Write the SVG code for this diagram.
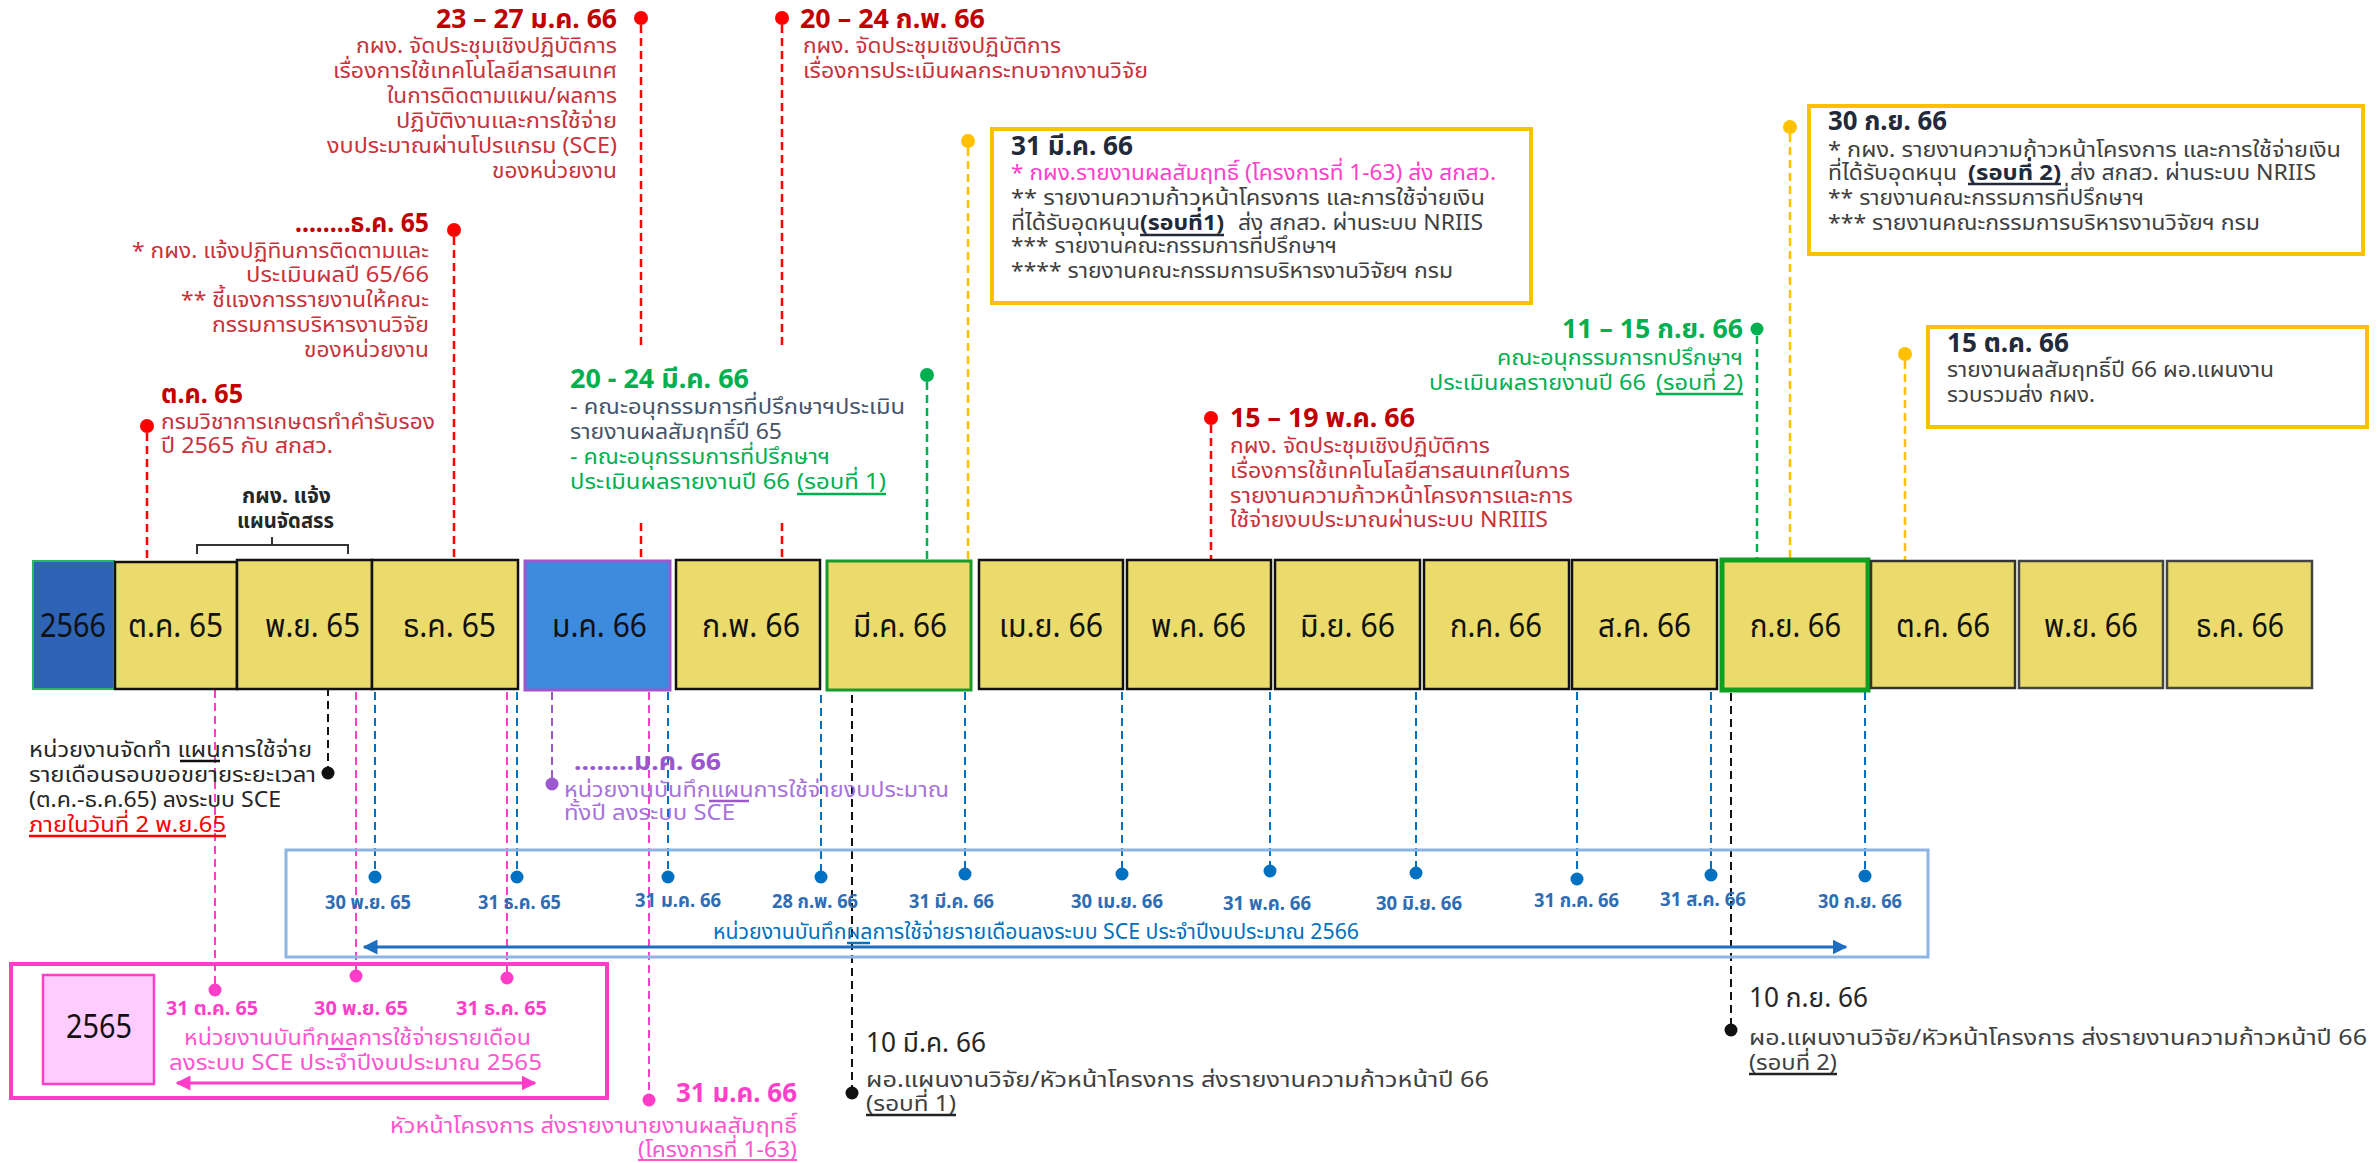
<svg xmlns="http://www.w3.org/2000/svg" width="2376" height="1162" viewBox="0 0 2376 1162">
<defs>
<style>
text{font-family:"Noto Sans","Noto Sans Thai","DejaVu Sans",sans-serif;font-size:22px;}
.b{font-weight:bold;}
.h{font-size:27px;font-weight:bold;}
.m{font-size:32px;fill:#111;}
.red{fill:#C00000;}
.redb{fill:#C8323A;}
.grn{fill:#00B050;}
.slate{fill:#44546A;}
.navy{fill:#222A3A;}
.gray{fill:#404040;}
.pink{fill:#FF3FC9;}
.pinkl{fill:#FF55D0;}
.purp{fill:#9B55D0;}
.purpl{fill:#A872DC;}
.blu{fill:#0070C0;}
.bl{fill:#2E6DB4;font-size:20px;font-weight:bold;}
.blk{fill:#262626;}
.box{fill:#EADB6C;stroke:#111;stroke-width:2.5;}
.d{fill:none;stroke-width:2.5;stroke-dasharray:8 5;}
.dr{stroke:#FF0000;}
.dg{stroke:#00B050;}
.dy{stroke:#FFC000;}
.db{stroke:#0070C0;stroke-width:2;}
.dp{stroke:#FF3DC8;stroke-width:2;}
.dk{stroke:#111;stroke-width:2;}
.dv{stroke:#9B59D0;stroke-width:2;}
.yb{fill:#fff;stroke:#FFC000;stroke-width:4;}
.ul{stroke-width:2.5;}
</style>
<marker id="ab" viewBox="0 0 10 10" refX="9" refY="5" markerWidth="5" markerHeight="5" orient="auto-start-reverse"><path d="M0,0 L10,5 L0,10 z" fill="#1F6FC0"/></marker>
<marker id="ap" viewBox="0 0 10 10" refX="9" refY="5" markerWidth="5" markerHeight="5" orient="auto-start-reverse"><path d="M0,0 L10,5 L0,10 z" fill="#FF3DC8"/></marker>
</defs>
<rect width="2376" height="1162" fill="#fff"/>

<g id="connectors">
<line class="d dr" x1="147" y1="433" x2="147" y2="558"/>
<line class="d dr" x1="454" y1="237" x2="454" y2="558"/>
<line class="d dr" x1="641" y1="25" x2="641" y2="345"/>
<line class="d dr" x1="641" y1="523" x2="641" y2="563"/>
<line class="d dr" x1="782" y1="25" x2="782" y2="345"/>
<line class="d dr" x1="782" y1="523" x2="782" y2="563"/>
<line class="d dg" x1="927" y1="382" x2="927" y2="561"/>
<line class="d dy" x1="968" y1="148" x2="968" y2="561"/>
<line class="d dr" x1="1211" y1="425" x2="1211" y2="566"/>
<line class="d dg" x1="1757" y1="336" x2="1757" y2="561"/>
<line class="d dy" x1="1790" y1="134" x2="1790" y2="561"/>
<line class="d dy" x1="1905" y1="361" x2="1905" y2="561"/>

<line class="d dp" x1="215" y1="690" x2="215" y2="984"/>
<line class="d dp" x1="356" y1="692" x2="356" y2="970"/>
<line class="d dp" x1="507" y1="692" x2="507" y2="972"/>
<line class="d dp" x1="649" y1="692" x2="649" y2="1094"/>
<line class="d dk" x1="328" y1="688" x2="328" y2="767"/>
<line class="d dv" x1="552" y1="692" x2="552" y2="778"/>
<line class="d dk" x1="852" y1="695" x2="852" y2="1087"/>
<line class="d dk" x1="1731" y1="693" x2="1731" y2="1024"/>

<line class="d db" x1="375" y1="692" x2="375" y2="871"/>
<line class="d db" x1="517" y1="692" x2="517" y2="871"/>
<line class="d db" x1="668" y1="692" x2="668" y2="871"/>
<line class="d db" x1="821" y1="695" x2="821" y2="871"/>
<line class="d db" x1="965" y1="692" x2="965" y2="868"/>
<line class="d db" x1="1122" y1="692" x2="1122" y2="868"/>
<line class="d db" x1="1270" y1="692" x2="1270" y2="865"/>
<line class="d db" x1="1416" y1="692" x2="1416" y2="867"/>
<line class="d db" x1="1577" y1="692" x2="1577" y2="873"/>
<line class="d db" x1="1711" y1="692" x2="1711" y2="869"/>
<line class="d db" x1="1865" y1="692" x2="1865" y2="870"/>

<g fill="#FF0000"><circle cx="147" cy="426" r="7"/><circle cx="454" cy="230" r="7"/><circle cx="641" cy="18" r="7"/><circle cx="782" cy="18" r="7"/><circle cx="1211" cy="418" r="7"/></g>
<g fill="#00B050"><circle cx="927" cy="375" r="7"/><circle cx="1757" cy="329" r="6.5"/></g>
<g fill="#FFC000"><circle cx="968" cy="141" r="7"/><circle cx="1790" cy="127" r="7"/><circle cx="1905" cy="354" r="7"/></g>
<g fill="#0070C0"><circle cx="375" cy="877" r="6.5"/><circle cx="517" cy="877" r="6.5"/><circle cx="668" cy="877" r="6.5"/><circle cx="821" cy="877" r="6.5"/><circle cx="965" cy="874" r="6.5"/><circle cx="1122" cy="874" r="6.5"/><circle cx="1270" cy="871" r="6.5"/><circle cx="1416" cy="873" r="6.5"/><circle cx="1577" cy="879" r="6.5"/><circle cx="1711" cy="875" r="6.5"/><circle cx="1865" cy="876" r="6.5"/></g>
<g fill="#FF3DC8"><circle cx="215" cy="990" r="6.5"/><circle cx="356" cy="976" r="6.5"/><circle cx="507" cy="978" r="6.5"/><circle cx="649" cy="1100" r="6.5"/></g>
<g fill="#111"><circle cx="328" cy="773" r="6.5"/><circle cx="852" cy="1093" r="6.5"/><circle cx="1731" cy="1030" r="6.5"/></g>
<circle cx="552" cy="784" r="6.5" fill="#9B59D0"/>
</g>

<g id="months">
<g id="m2566"><rect x="33" y="561" width="81" height="128" fill="#2E63B6" stroke="#2DB36A" stroke-width="2"/><text class="m" x="40" y="637" textLength="66" lengthAdjust="spacingAndGlyphs">2566</text></g>
<g id="m-oct65"><rect class="box" x="115" y="562" width="122" height="127"/><text class="m" x="128" y="637" textLength="95" lengthAdjust="spacingAndGlyphs">ต.ค. 65</text></g>
<g id="m-nov65"><rect class="box" x="237" y="560" width="135" height="129"/><text class="m" x="265" y="637" textLength="95" lengthAdjust="spacingAndGlyphs">พ.ย. 65</text></g>
<g id="m-dec65"><rect class="box" x="372" y="560" width="146" height="129"/><text class="m" x="403" y="637" textLength="93" lengthAdjust="spacingAndGlyphs">ธ.ค. 65</text></g>
<g id="m-jan66"><rect x="525" y="561" width="145" height="129" fill="#3D8BDF" stroke="#9B59D0" stroke-width="3"/><text class="m" x="552" y="637" textLength="95" lengthAdjust="spacingAndGlyphs">ม.ค. 66</text></g>
<g id="m-feb66"><rect class="box" x="676" y="560" width="144" height="129"/><text class="m" x="702" y="637" textLength="98" lengthAdjust="spacingAndGlyphs">ก.พ. 66</text></g>
<g id="m-mar66"><rect class="box" x="827" y="561" width="144" height="129" style="stroke:#1A9A2A;stroke-width:3"/><text class="m" x="853" y="637" textLength="94" lengthAdjust="spacingAndGlyphs">มี.ค. 66</text></g>
<g id="m-apr66"><rect class="box" x="979" y="560" width="144" height="129"/><text class="m" x="999" y="637" textLength="104" lengthAdjust="spacingAndGlyphs">เม.ย. 66</text></g>
<g id="m-may66"><rect class="box" x="1127" y="560" width="144" height="129"/><text class="m" x="1151" y="637" textLength="95" lengthAdjust="spacingAndGlyphs">พ.ค. 66</text></g>
<g id="m-jun66"><rect class="box" x="1275" y="560" width="145" height="129"/><text class="m" x="1300" y="637" textLength="95" lengthAdjust="spacingAndGlyphs">มิ.ย. 66</text></g>
<g id="m-jul66"><rect class="box" x="1424" y="560" width="145" height="129"/><text class="m" x="1450" y="637" textLength="92" lengthAdjust="spacingAndGlyphs">ก.ค. 66</text></g>
<g id="m-aug66"><rect class="box" x="1572" y="560" width="145" height="129"/><text class="m" x="1598" y="637" textLength="93" lengthAdjust="spacingAndGlyphs">ส.ค. 66</text></g>
<g id="m-sep66"><rect class="box" x="1722" y="560" width="146" height="130" style="stroke:#10A020;stroke-width:5"/><text class="m" x="1750" y="637" textLength="91" lengthAdjust="spacingAndGlyphs">ก.ย. 66</text></g>
<g id="m-oct66"><rect class="box" x="1871" y="561" width="144" height="127" style="stroke:#333"/><text class="m" x="1896" y="637" textLength="94" lengthAdjust="spacingAndGlyphs">ต.ค. 66</text></g>
<g id="m-nov66"><rect class="box" x="2019" y="561" width="144" height="127" style="stroke:#444"/><text class="m" x="2044" y="637" textLength="94" lengthAdjust="spacingAndGlyphs">พ.ย. 66</text></g>
<g id="m-dec66"><rect class="box" x="2167" y="561" width="145" height="127" style="stroke:#444"/><text class="m" x="2196" y="637" textLength="88" lengthAdjust="spacingAndGlyphs">ธ.ค. 66</text></g>
</g>

<g id="n-oct65">
<text lengthAdjust="spacingAndGlyphs"><tspan class="h red" x="161" y="403" textLength="82" lengthAdjust="spacingAndGlyphs">ต.ค. 65</tspan><tspan class="redb" x="161" y="429" textLength="274" lengthAdjust="spacingAndGlyphs">กรมวิชาการเกษตรทำคำรับรอง</tspan><tspan class="redb" x="161" y="453" textLength="172" lengthAdjust="spacingAndGlyphs">ปี 2565 กับ สกสว.</tspan></text>
</g>

<g id="n-dec65">
<text><tspan class="h red" x="295" y="232" textLength="134" lengthAdjust="spacingAndGlyphs">........ธ.ค. 65</tspan><tspan class="redb" x="132" y="258" textLength="297" lengthAdjust="spacingAndGlyphs">* กผง. แจ้งปฏิทินการติดตามและ</tspan><tspan class="redb" x="246" y="282" textLength="183" lengthAdjust="spacingAndGlyphs">ประเมินผลปี 65/66</tspan><tspan class="redb" x="181" y="307" textLength="248" lengthAdjust="spacingAndGlyphs">** ชี้แจงการรายงานให้คณะ</tspan><tspan class="redb" x="212" y="332" textLength="217" lengthAdjust="spacingAndGlyphs">กรรมการบริหารงานวิจัย</tspan><tspan class="redb" x="304" y="357" textLength="125" lengthAdjust="spacingAndGlyphs">ของหน่วยงาน</tspan></text>
</g>

<g id="n-plan">
<text class="b blk"><tspan x="242" y="503" textLength="89" lengthAdjust="spacingAndGlyphs">กผง. แจ้ง</tspan><tspan x="237" y="528" textLength="97" lengthAdjust="spacingAndGlyphs">แผนจัดสรร</tspan></text>
<path d="M197 554 L197 545 L348 545 L348 554 M272 545 L272 537" fill="none" stroke="#333" stroke-width="2"/>
</g>

<g id="n-jan23">
<text><tspan class="h red" x="436" y="28" textLength="181" lengthAdjust="spacingAndGlyphs">23 – 27 ม.ค. 66</tspan><tspan class="redb" x="356" y="53" textLength="261" lengthAdjust="spacingAndGlyphs">กผง. จัดประชุมเชิงปฏิบัติการ</tspan><tspan class="redb" x="333" y="78" textLength="284" lengthAdjust="spacingAndGlyphs">เรื่องการใช้เทคโนโลยีสารสนเทศ</tspan><tspan class="redb" x="387" y="103" textLength="230" lengthAdjust="spacingAndGlyphs">ในการติดตามแผน/ผลการ</tspan><tspan class="redb" x="396" y="128" textLength="221" lengthAdjust="spacingAndGlyphs">ปฏิบัติงานและการใช้จ่าย</tspan><tspan class="redb" x="327" y="153" textLength="290" lengthAdjust="spacingAndGlyphs">งบประมาณผ่านโปรแกรม (SCE)</tspan><tspan class="redb" x="492" y="178" textLength="125" lengthAdjust="spacingAndGlyphs">ของหน่วยงาน</tspan></text>
</g>

<g id="n-feb20">
<text><tspan class="h red" x="800" y="28" textLength="185" lengthAdjust="spacingAndGlyphs">20 – 24 ก.พ. 66</tspan><tspan class="redb" x="803" y="53" textLength="258" lengthAdjust="spacingAndGlyphs">กผง. จัดประชุมเชิงปฏิบัติการ</tspan><tspan class="redb" x="803" y="78" textLength="345" lengthAdjust="spacingAndGlyphs">เรื่องการประเมินผลกระทบจากงานวิจัย</tspan></text>
</g>

<g id="n-mar20">
<text><tspan class="h grn" x="570" y="388" textLength="179" lengthAdjust="spacingAndGlyphs">20 - 24 มี.ค. 66</tspan><tspan class="slate" x="570" y="414" textLength="335" lengthAdjust="spacingAndGlyphs">- คณะอนุกรรมการที่ปรึกษาฯประเมิน</tspan><tspan class="slate" x="570" y="439" textLength="212" lengthAdjust="spacingAndGlyphs">รายงานผลสัมฤทธิ์ปี 65</tspan><tspan class="grn" x="570" y="464" textLength="260" lengthAdjust="spacingAndGlyphs">- คณะอนุกรรมการที่ปรึกษาฯ</tspan><tspan class="grn" x="570" y="489" textLength="220" lengthAdjust="spacingAndGlyphs">ประเมินผลรายงานปี 66</tspan><tspan class="grn" x="797" y="489" textLength="89" lengthAdjust="spacingAndGlyphs">(รอบที่ 1)</tspan></text>
<line class="ul" x1="797" y1="494" x2="886" y2="494" stroke="#00B050"/>
</g>

<g id="n-mar31">
<rect class="yb" x="992" y="129" width="539" height="174"/>
<text><tspan class="h navy" x="1011" y="155" textLength="122" lengthAdjust="spacingAndGlyphs">31 มี.ค. 66</tspan><tspan class="pink" x="1011" y="180" textLength="485" lengthAdjust="spacingAndGlyphs">* กผง.รายงานผลสัมฤทธิ์ (โครงการที่ 1-63) ส่ง สกสว.</tspan><tspan class="gray" x="1011" y="205" textLength="474" lengthAdjust="spacingAndGlyphs">** รายงานความก้าวหน้าโครงการ และการใช้จ่ายเงิน</tspan><tspan class="gray" x="1011" y="230" textLength="129" lengthAdjust="spacingAndGlyphs">ที่ได้รับอุดหนุน</tspan><tspan class="b navy" x="1140" y="230" textLength="84" lengthAdjust="spacingAndGlyphs">(รอบที่1)</tspan><tspan class="gray" x="1238" y="230" textLength="245" lengthAdjust="spacingAndGlyphs">ส่ง สกสว. ผ่านระบบ NRIIS</tspan><tspan class="gray" x="1011" y="253" textLength="326" lengthAdjust="spacingAndGlyphs">*** รายงานคณะกรรมการที่ปรึกษาฯ</tspan><tspan class="gray" x="1011" y="278" textLength="442" lengthAdjust="spacingAndGlyphs">**** รายงานคณะกรรมการบริหารงานวิจัยฯ กรม</tspan></text>
<line class="ul" x1="1140" y1="235" x2="1224" y2="235" stroke="#222A3A"/>
</g>

<g id="n-may15">
<text><tspan class="h red" x="1230" y="427" textLength="185" lengthAdjust="spacingAndGlyphs">15 – 19 พ.ค. 66</tspan><tspan class="redb" x="1230" y="453" textLength="260" lengthAdjust="spacingAndGlyphs">กผง. จัดประชุมเชิงปฏิบัติการ</tspan><tspan class="redb" x="1230" y="478" textLength="340" lengthAdjust="spacingAndGlyphs">เรื่องการใช้เทคโนโลยีสารสนเทศในการ</tspan><tspan class="redb" x="1230" y="503" textLength="343" lengthAdjust="spacingAndGlyphs">รายงานความก้าวหน้าโครงการและการ</tspan><tspan class="redb" x="1230" y="527" textLength="318" lengthAdjust="spacingAndGlyphs">ใช้จ่ายงบประมาณผ่านระบบ  NRIIIS</tspan></text>
</g>

<g id="n-sep11">
<text><tspan class="h grn" x="1562" y="338" textLength="181" lengthAdjust="spacingAndGlyphs">11 – 15 ก.ย. 66</tspan><tspan class="grn" x="1497" y="365" textLength="246" lengthAdjust="spacingAndGlyphs">คณะอนุกรรมการทปรึกษาฯ</tspan><tspan class="grn" x="1429" y="390" textLength="217" lengthAdjust="spacingAndGlyphs">ประเมินผลรายงานปี 66</tspan><tspan class="grn" x="1656" y="390" textLength="87" lengthAdjust="spacingAndGlyphs">(รอบที่ 2)</tspan></text>
<line class="ul" x1="1656" y1="394" x2="1743" y2="394" stroke="#00B050"/>
</g>

<g id="n-sep30">
<rect class="yb" x="1809" y="106" width="554" height="148"/>
<text><tspan class="h navy" x="1828" y="130" textLength="119" lengthAdjust="spacingAndGlyphs">30 ก.ย. 66</tspan><tspan class="gray" x="1828" y="157" textLength="513" lengthAdjust="spacingAndGlyphs">* กผง. รายงานความก้าวหน้าโครงการ และการใช้จ่ายเงิน</tspan><tspan class="gray" x="1828" y="180" textLength="129" lengthAdjust="spacingAndGlyphs">ที่ได้รับอุดหนุน</tspan><tspan class="b navy" x="1968" y="180" textLength="93" lengthAdjust="spacingAndGlyphs">(รอบที่ 2)</tspan><tspan class="gray" x="2070" y="180" textLength="246" lengthAdjust="spacingAndGlyphs">ส่ง สกสว. ผ่านระบบ NRIIS</tspan><tspan class="gray" x="1828" y="205" textLength="316" lengthAdjust="spacingAndGlyphs">** รายงานคณะกรรมการที่ปรึกษาฯ</tspan><tspan class="gray" x="1828" y="230" textLength="432" lengthAdjust="spacingAndGlyphs">*** รายงานคณะกรรมการบริหารงานวิจัยฯ กรม</tspan></text>
<line class="ul" x1="1968" y1="184" x2="2061" y2="184" stroke="#222A3A"/>
</g>

<g id="n-oct15">
<rect class="yb" x="1928" y="327" width="439" height="100"/>
<text><tspan class="h navy" x="1947" y="352" textLength="122" lengthAdjust="spacingAndGlyphs">15 ต.ค. 66</tspan><tspan class="gray" x="1947" y="377" textLength="327" lengthAdjust="spacingAndGlyphs">รายงานผลสัมฤทธิ์ปี 66 ผอ.แผนงาน</tspan><tspan class="gray" x="1947" y="402" textLength="148" lengthAdjust="spacingAndGlyphs">รวบรวมส่ง กผง.</tspan></text>
</g>

<g id="n-planunit">
<text><tspan class="blk" x="29" y="757" textLength="283" lengthAdjust="spacingAndGlyphs">หน่วยงานจัดทำ แผนการใช้จ่าย</tspan><tspan class="blk" x="29" y="782" textLength="287" lengthAdjust="spacingAndGlyphs">รายเดือนรอบขอขยายระยะเวลา</tspan><tspan class="blk" x="29" y="807" textLength="252" lengthAdjust="spacingAndGlyphs">(ต.ค.-ธ.ค.65) ลงระบบ SCE</tspan><tspan x="29" y="832" fill="#FF0000" textLength="197" lengthAdjust="spacingAndGlyphs">ภายในวันที่ 2 พ.ย.65</tspan></text>
<line x1="180" y1="761" x2="220" y2="761" stroke="#111" stroke-width="2.5"/>
<line x1="29" y1="836" x2="226" y2="836" stroke="#FF0000" stroke-width="2.5"/>
</g>

<g id="n-jan66plan">
<text><tspan class="h purp" x="574" y="770" style="font-size:24px" textLength="147" lengthAdjust="spacingAndGlyphs">........ม.ค. 66</tspan><tspan class="purpl" x="564" y="797" textLength="385" lengthAdjust="spacingAndGlyphs">หน่วยงานบันทึกแผนการใช้จ่ายงบประมาณ</tspan><tspan class="purpl" x="564" y="820" textLength="171" lengthAdjust="spacingAndGlyphs">ทั้งปี ลงระบบ SCE</tspan></text>
<line x1="709" y1="801" x2="749" y2="801" stroke="#9B59D0" stroke-width="2.5"/>
</g>

<g id="n-2566record">
<rect x="286" y="850" width="1642" height="107" fill="none" stroke="#8DB4E2" stroke-width="3"/>
<text class="bl"><tspan x="325" y="909" textLength="86" lengthAdjust="spacingAndGlyphs">30 พ.ย. 65</tspan><tspan x="478" y="909" textLength="83" lengthAdjust="spacingAndGlyphs">31 ธ.ค. 65</tspan><tspan x="635" y="907" textLength="86" lengthAdjust="spacingAndGlyphs">31 ม.ค. 66</tspan><tspan x="772" y="908" textLength="86" lengthAdjust="spacingAndGlyphs">28 ก.พ. 66</tspan><tspan x="909" y="908" textLength="85" lengthAdjust="spacingAndGlyphs">31 มี.ค. 66</tspan><tspan x="1071" y="908" textLength="92" lengthAdjust="spacingAndGlyphs">30 เม.ย. 66</tspan><tspan x="1223" y="910" textLength="88" lengthAdjust="spacingAndGlyphs">31 พ.ค. 66</tspan><tspan x="1376" y="910" textLength="86" lengthAdjust="spacingAndGlyphs">30 มิ.ย. 66</tspan><tspan x="1534" y="907" textLength="85" lengthAdjust="spacingAndGlyphs">31 ก.ค. 66</tspan><tspan x="1660" y="906" textLength="86" lengthAdjust="spacingAndGlyphs">31 ส.ค. 66</tspan><tspan x="1818" y="908" textLength="84" lengthAdjust="spacingAndGlyphs">30 ก.ย. 66</tspan></text>
<text class="blu" x="713" y="939" textLength="646" lengthAdjust="spacingAndGlyphs">หน่วยงานบันทึกผลการใช้จ่ายรายเดือนลงระบบ SCE ประจำปีงบประมาณ 2566</text>
<line x1="847" y1="943" x2="870" y2="943" stroke="#0070C0" stroke-width="2.5"/>
<line x1="364" y1="947" x2="1846" y2="947" stroke="#1F6FC0" stroke-width="3" marker-start="url(#ab)" marker-end="url(#ab)"/>
</g>

<g id="n-2565">
<rect x="11" y="964" width="596" height="134" fill="none" stroke="#FF3DC8" stroke-width="4"/>
<rect x="43" y="975" width="111" height="109" fill="#FFCCFF" stroke="#FF3DC8" stroke-width="2.5"/>
<text class="m" x="66" y="1038" textLength="66" lengthAdjust="spacingAndGlyphs">2565</text>
<text class="b pink" style="font-size:20px"><tspan x="166" y="1015" textLength="92" lengthAdjust="spacingAndGlyphs">31 ต.ค. 65</tspan><tspan x="314" y="1015" textLength="94" lengthAdjust="spacingAndGlyphs">30 พ.ย. 65</tspan><tspan x="456" y="1015" textLength="91" lengthAdjust="spacingAndGlyphs">31 ธ.ค. 65</tspan></text>
<text class="pinkl"><tspan x="184" y="1045" textLength="347" lengthAdjust="spacingAndGlyphs">หน่วยงานบันทึกผลการใช้จ่ายรายเดือน</tspan><tspan x="169" y="1070" textLength="373" lengthAdjust="spacingAndGlyphs">ลงระบบ SCE ประจำปีงบประมาณ 2565</tspan></text>
<line x1="328" y1="1049" x2="354" y2="1049" stroke="#FF3DC8" stroke-width="2"/>
<line x1="177" y1="1083" x2="535" y2="1083" stroke="#FF3DC8" stroke-width="3" marker-start="url(#ap)" marker-end="url(#ap)"/>
</g>

<g id="n-jan31">
<text><tspan class="h pink" x="676" y="1102" textLength="121" lengthAdjust="spacingAndGlyphs">31 ม.ค. 66</tspan><tspan class="pinkl" x="390" y="1133" textLength="407" lengthAdjust="spacingAndGlyphs">หัวหน้าโครงการ  ส่งรายงานายงานผลสัมฤทธิ์</tspan><tspan class="pinkl" x="638" y="1157" textLength="159" lengthAdjust="spacingAndGlyphs">(โครงการที่ 1-63)</tspan></text>
<line x1="638" y1="1160" x2="797" y2="1160" stroke="#FF55D0" stroke-width="2"/>
</g>

<g id="n-mar10">
<text><tspan class="blk" x="866" y="1052" style="font-size:27px" textLength="120" lengthAdjust="spacingAndGlyphs">10 มี.ค. 66</tspan><tspan class="gray" x="866" y="1087" textLength="623" lengthAdjust="spacingAndGlyphs">ผอ.แผนงานวิจัย/หัวหน้าโครงการ ส่งรายงานความก้าวหน้าปี 66</tspan><tspan class="gray" x="866" y="1111" textLength="90" lengthAdjust="spacingAndGlyphs">(รอบที่ 1)</tspan></text>
<line x1="866" y1="1115" x2="956" y2="1115" stroke="#222" stroke-width="2.5"/>
</g>

<g id="n-sep10">
<text><tspan class="blk" x="1749" y="1007" style="font-size:27px" textLength="119" lengthAdjust="spacingAndGlyphs">10 ก.ย. 66</tspan><tspan class="gray" x="1749" y="1045" textLength="618" lengthAdjust="spacingAndGlyphs">ผอ.แผนงานวิจัย/หัวหน้าโครงการ ส่งรายงานความก้าวหน้าปี 66</tspan><tspan class="gray" x="1749" y="1070" textLength="88" lengthAdjust="spacingAndGlyphs">(รอบที่ 2)</tspan></text>
<line x1="1749" y1="1074" x2="1837" y2="1074" stroke="#222" stroke-width="2.5"/>
</g>
</svg>
